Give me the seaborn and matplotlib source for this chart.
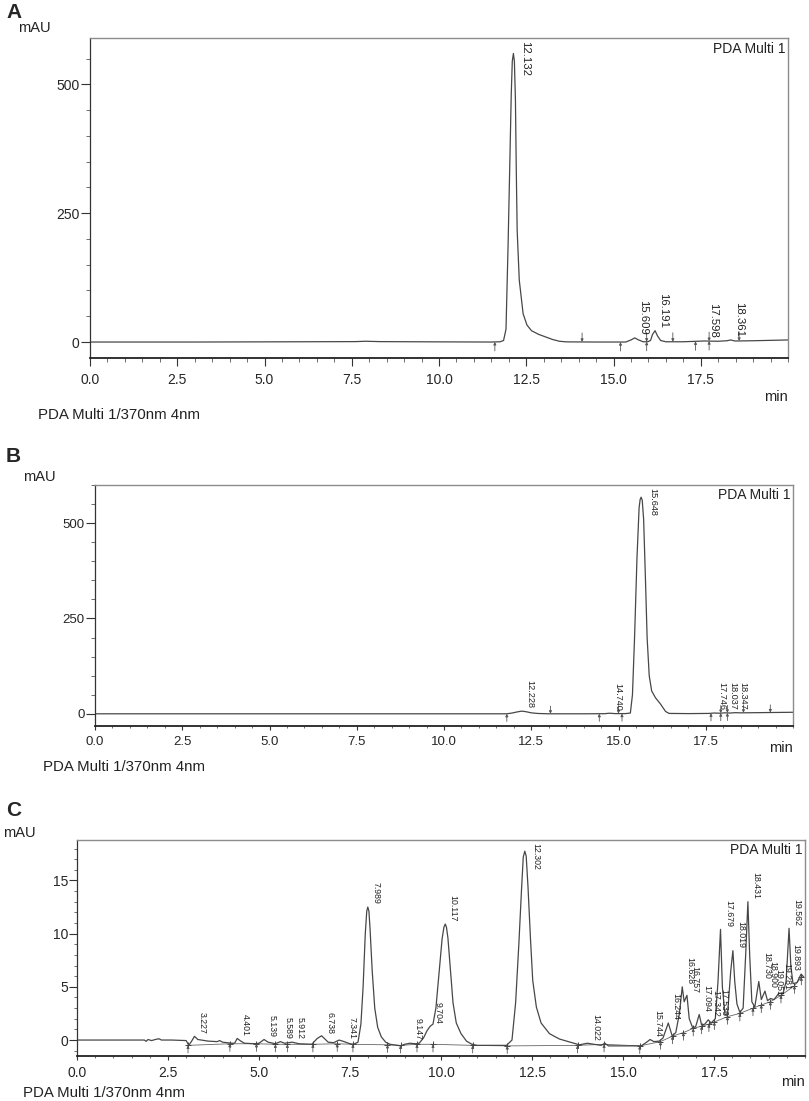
import numpy as np
import matplotlib
matplotlib.use('Agg')
import matplotlib.pyplot as plt
import seaborn as sns
from matplotlib.ticker import MultipleLocator, FixedLocator

sns.set_theme(style='white')
plt.rcParams['font.family'] = ['Liberation Sans', 'DejaVu Sans']

# ---------------- panel A: chromatogram ----------------
a_time = [0.0, 3.0, 6.0, 7.6, 7.9, 8.3, 10.0, 11.5, 11.75, 11.85, 11.92, 11.98,
          12.03, 12.07, 12.10, 12.132, 12.16, 12.19, 12.215, 12.24, 12.30, 12.41,
          12.52, 12.65, 12.85, 13.05, 13.25, 13.45, 13.65, 14.5, 15.35, 15.50,
          15.609, 15.72, 15.85, 15.98, 16.06, 16.12, 16.191, 16.26, 16.35, 16.50,
          17.0, 17.598, 18.0, 18.25, 18.361, 18.48, 19.0, 20.0]
a_mau = [0.0, 0.0, 0.5, 0.8, 1.5, 0.8, 0.3, 0.0, 0.5, 3, 25, 190,
         350, 480, 545, 560, 545, 470, 330, 216, 120, 55,
         33, 22, 15, 10, 5, 1.5, 0.3, 0.0, 0.0, 4,
         8, 4, 0.5, 0.5, 3, 15, 22, 12, 3, 0.5,
         0.5, 2, 1.5, 2.5, 4, 2.0, 2.5, 4.0]
a_peaks = [12.132, 15.609, 16.191, 17.598, 18.361]
a_up = [11.6, 15.2, 15.95, 17.35, 17.74]
a_down = [14.1, 15.95, 16.7, 17.74, 18.6]

# ---------------- panel B ----------------
b_time = [0.0, 5.0, 10.0, 11.8, 11.95, 12.1, 12.228, 12.35, 12.5, 12.7, 13.0,
          14.0, 14.6, 14.74, 14.9, 15.2, 15.34, 15.40, 15.46, 15.53, 15.59,
          15.62, 15.648, 15.68, 15.72, 15.77, 15.82, 15.88, 15.95, 16.06, 16.20,
          16.35, 16.45, 17.0, 17.6, 17.746, 17.9, 18.037, 18.2, 18.347, 18.5,
          19.0, 20.0]
b_mau = [0.0, 0.0, 0.0, 0.0, 2.0, 5.0, 7.0, 5.5, 2.5, 0.8, 0.0,
         0.0, 0.3, 1.5, 0.5, 0.5, 2.0, 50, 200, 410, 540,
         562, 568, 560, 510, 360, 200, 100, 60, 42, 26,
         6, 1, 0.5, 1.0, 2.0, 1.5, 2.5, 2.0, 3.0, 2.5,
         3.0, 4.0]
b_peaks = [12.228, 14.740, 15.648, 17.746, 18.037, 18.347]
b_up = [11.8, 14.45, 15.1, 17.65, 17.93, 18.12]
b_down = [13.05, 15.0, 17.93, 18.12, 18.58, 19.35]

# ---------------- panel C ----------------
c_time = [0.0, 1.0, 1.85, 1.90, 1.95, 2.05, 2.15, 2.25, 2.32, 2.6, 3.0, 3.07,
          3.15, 3.227, 3.32, 3.6, 3.85, 3.92, 4.0, 4.25, 4.33, 4.401, 4.5, 4.6,
          4.9, 5.0, 5.139, 5.25, 5.45, 5.589, 5.7, 5.912, 6.1, 6.45, 6.6, 6.72,
          6.9, 7.05, 7.2, 7.341, 7.5, 7.60, 7.72, 7.80, 7.86, 7.92, 7.96, 7.989,
          8.02, 8.05, 8.11, 8.18, 8.26, 8.36, 8.48, 8.60, 8.9, 9.0, 9.147, 9.3,
          9.40, 9.52, 9.62, 9.704, 9.78, 9.86, 9.95, 10.03, 10.08, 10.117, 10.15,
          10.19, 10.26, 10.33, 10.42, 10.55, 10.70, 10.85, 11.0, 11.80, 11.95,
          12.05, 12.14, 12.21, 12.26, 12.302, 12.34, 12.39, 12.46, 12.52, 12.62,
          12.75, 12.98, 13.25, 13.6, 13.8, 14.022, 14.2, 14.4, 14.5, 14.6, 15.0,
          15.5, 15.65, 15.744, 15.85, 16.0, 16.1, 16.244, 16.35, 16.45, 16.55,
          16.628, 16.68, 16.757, 16.82, 16.92, 17.0, 17.094, 17.16, 17.25, 17.342,
          17.42, 17.536, 17.61, 17.679, 17.73, 17.80, 17.87, 17.96, 18.019, 18.07,
          18.13, 18.21, 18.30, 18.37, 18.431, 18.48, 18.54, 18.62, 18.73, 18.80,
          18.90, 18.97, 19.051, 19.15, 19.281, 19.40, 19.48, 19.562, 19.61, 19.67,
          19.78, 19.893, 19.97]
c_mau = [0.0, 0.0, 0.0, -0.12, 0.05, -0.05, 0.05, 0.12, 0.0, 0.0, -0.05, -0.5,
         -0.1, 0.35, 0.05, -0.1, -0.15, -0.05, -0.2, -0.3, -0.3, 0.15, -0.1, -0.3,
         -0.35, -0.3, 0.05, -0.2, -0.35, -0.15, -0.3, -0.2, -0.35, -0.4, 0.15, 0.4,
         -0.2, -0.25, 0.0, -0.15, -0.35, -0.4, -0.2, 1.5, 5.0, 10.0, 12.1, 12.5,
         12.1, 10.5, 6.5, 3.0, 1.2, 0.3, -0.2, -0.4, -0.55, -0.4, -0.3, -0.35,
         -0.3, 0.2, 0.9, 1.3, 1.5, 3.0, 6.5, 9.5, 10.6, 10.9, 10.6,
         9.6, 6.5, 3.5, 1.6, 0.6, -0.1, -0.4, -0.5, -0.5, 0.0,
         3.5, 9.1, 14.0, 17.2, 17.75, 17.3, 14.4, 9.4, 5.6, 3.1,
         1.6, 0.6, 0.1, -0.25, -0.45, -0.3, -0.4, -0.5, -0.3, -0.55, -0.55,
         -0.55, -0.2, 0.05, -0.15, -0.1, 0.2, 1.6, 0.4, 0.7, 2.5,
         5.0, 3.6, 4.2, 2.0, 1.1, 1.3, 2.4, 1.4, 1.5, 1.9,
         1.6, 2.0, 5.5, 10.4, 5.0, 2.4, 2.3, 6.5, 8.4, 5.5,
         3.4, 2.6, 3.0, 8.0, 13.0, 8.0, 3.6, 3.1, 5.5, 3.8,
         4.6, 3.7, 3.9, 3.8, 4.4, 4.4, 5.5, 10.5, 7.0, 5.3,
         5.4, 6.2, 5.9]
c_peaks = [3.227, 4.401, 5.139, 5.589, 5.912, 6.738, 7.341, 7.989, 9.147, 9.704,
           10.117, 12.302, 14.022, 15.744, 16.244, 16.628, 16.757, 17.094, 17.342,
           17.536, 17.679, 18.019, 18.431, 18.730, 18.900, 19.051, 19.281, 19.562,
           19.893]
# integration baseline drawn by the software (+ marks)
c_base_t = [3.05, 4.2, 4.93, 5.45, 5.78, 6.48, 7.15, 7.58, 8.53, 8.89, 9.34, 9.78,
            10.87, 11.82, 13.75, 14.48, 15.46, 16.03, 16.36, 16.66, 16.93, 17.16,
            17.36, 17.51, 17.87, 18.21, 18.57, 18.8, 19.05, 19.34, 19.71, 19.9]
c_base_v = [-0.5, -0.35, -0.35, -0.4, -0.4, -0.4, -0.35, -0.4, -0.45, -0.5, -0.4,
            -0.4, -0.5, -0.55, -0.5, -0.4, -0.55, -0.15, 0.37, 0.7, 1.1, 1.3,
            1.5, 1.7, 2.2, 2.5, 3.0, 3.3, 3.6, 4.2, 5.1, 5.9]

W, H = 809, 1101
fig = plt.figure(figsize=(W / 100, H / 100), dpi=100)


def rect(left, top, right, bottom):
    return [left / W, 1 - bottom / H, (right - left) / W, (bottom - top) / H]


def ftext(x, y, s, **kw):
    fig.text(x / W, 1 - y / H, s, **kw)


trace_col = '#474747'
mark_col = '#555555'


def style_axes(ax, ylim, yticks, yminor, tick_fs, ylen, xlen, xpad):
    ax.set_xlim(0, 20)
    ax.set_ylim(*ylim)
    ax.xaxis.set_major_locator(FixedLocator([0, 2.5, 5, 7.5, 10, 12.5, 15, 17.5]))
    ax.set_xticklabels(['0.0', '2.5', '5.0', '7.5', '10.0', '12.5', '15.0', '17.5'])
    ax.xaxis.set_minor_locator(MultipleLocator(0.5))
    ax.yaxis.set_major_locator(FixedLocator(yticks))
    ax.set_yticklabels([str(v) for v in yticks])
    ax.yaxis.set_minor_locator(MultipleLocator(yminor))
    ax.set_xlabel('')
    ax.set_ylabel('')
    ax.tick_params(axis='y', which='major', direction='out', length=ylen, width=0.8,
                   color='#333333', pad=1, labelsize=tick_fs, left=True)
    ax.tick_params(axis='y', which='minor', direction='out', length=ylen * 0.4,
                   width=0.6, color='#555555', left=True)
    ax.tick_params(axis='x', which='major', direction='out', length=xlen, width=0.8,
                   color='#333333', pad=xpad, labelsize=tick_fs, bottom=True)
    ax.tick_params(axis='x', which='minor', direction='out', length=xlen * 0.45,
                   width=0.6, color='#555555', bottom=True)
    for side in ['top', 'right']:
        ax.spines[side].set_color('#8c8c8c')
        ax.spines[side].set_linewidth(1.0)
    ax.spines['left'].set_color('#333333')
    ax.spines['left'].set_linewidth(0.9)
    ax.spines['bottom'].set_color('#222222')
    ax.spines['bottom'].set_linewidth(1.3)
    ax.text(0.997, 0.988, 'PDA Multi 1', transform=ax.transAxes, ha='right',
            va='top', fontsize=10, color='#222222')


def peak_labels(ax, t, v, peaks, fs, ytop):
    for rt in peaks:
        y = np.interp(rt, t, v)
        if y > 0.8 * ytop:
            ax.annotate(f'{rt:.3f}', xy=(rt, ytop), xytext=(5.0, -2.5),
                        textcoords='offset points', rotation=270, ha='left',
                        va='top', fontsize=fs, color='#222222')
        else:
            # labels near the right edge are pushed back inside the frame
            dx = -7.0 if rt > 19.75 else 2.5
            ax.annotate(f'{rt:.3f}', xy=(rt, y), xytext=(dx, 2.0),
                        textcoords='offset points', rotation=270, ha='left',
                        va='bottom', fontsize=fs, color='#222222')


def arrows(ax, t, v, times, up=True, size=6.5):
    for tm in times:
        y = np.interp(tm, t, v)
        off = -size if up else size
        ax.annotate('', xy=(tm, y), xytext=(0, off), textcoords='offset points',
                    arrowprops=dict(arrowstyle='-|>', lw=0.6, color=mark_col,
                                    mutation_scale=4, shrinkA=0, shrinkB=0))


# ---------------- A ----------------
axA = fig.add_axes(rect(90, 38, 788, 358))
sns.lineplot(x=a_time, y=a_mau, ax=axA, color=trace_col, linewidth=0.9,
             estimator=None, sort=False)
style_axes(axA, (-31, 590), [0, 250, 500], 50, 10, 6.5, 6, 4.5)
arrows(axA, a_time, a_mau, a_up, up=True)
arrows(axA, a_time, a_mau, a_down, up=False)
peak_labels(axA, a_time, a_mau, a_peaks, 8.2, 590)

# ---------------- B ----------------
axB = fig.add_axes(rect(95, 485, 793, 726))
sns.lineplot(x=b_time, y=b_mau, ax=axB, color=trace_col, linewidth=0.9,
             estimator=None, sort=False)
style_axes(axB, (-32, 600), [0, 250, 500], 50, 9.5, 6.5, 3, 4.5)
arrows(axB, b_time, b_mau, b_up, up=True, size=5.5)
arrows(axB, b_time, b_mau, b_down, up=False, size=5.5)
peak_labels(axB, b_time, b_mau, b_peaks, 6.6, 600)

# ---------------- C ----------------
axC = fig.add_axes(rect(77, 840, 805, 1056))
sns.lineplot(x=c_base_t, y=c_base_v, ax=axC, color='#666666', linewidth=0.6,
             marker='+', markersize=5, markeredgewidth=0.7, markeredgecolor='#444444',
             estimator=None, sort=False)
sns.lineplot(x=c_time, y=c_mau, ax=axC, color=trace_col, linewidth=0.9,
             estimator=None, sort=False)
style_axes(axC, (-1.5, 18.8), [0, 5, 10, 15], 1, 10, 5.5, 3, 4)
arrows(axC, c_base_t, c_base_v, c_base_t, up=True, size=5.5)
peak_labels(axC, c_time, c_mau, c_peaks, 6.3, 18.8)

# ---------------- figure texts ----------------
for y_lab, y_mau, x_mau, letter in [(12, 28, 18, 'A'), (457, 477, 23, 'B'), (810, 833, 3, 'C')]:
    ftext(6, y_lab, letter, fontsize=15, fontweight='bold', va='center', ha='left')
    ftext(x_mau, y_mau, 'mAU', fontsize=10.5, va='center', ha='left', color='#222222')

for x_min, y_min in [(788, 397), (793, 748), (805, 1082)]:
    ftext(x_min, y_min, 'min', fontsize=10.5, va='center', ha='right', color='#222222')

for x_pda, y_pda in [(38, 415), (43, 767), (23, 1093)]:
    ftext(x_pda, y_pda, 'PDA Multi 1/370nm 4nm', fontsize=10.8, va='center',
          ha='left', color='#222222')

fig.savefig('out.png', dpi=100, facecolor='white')
